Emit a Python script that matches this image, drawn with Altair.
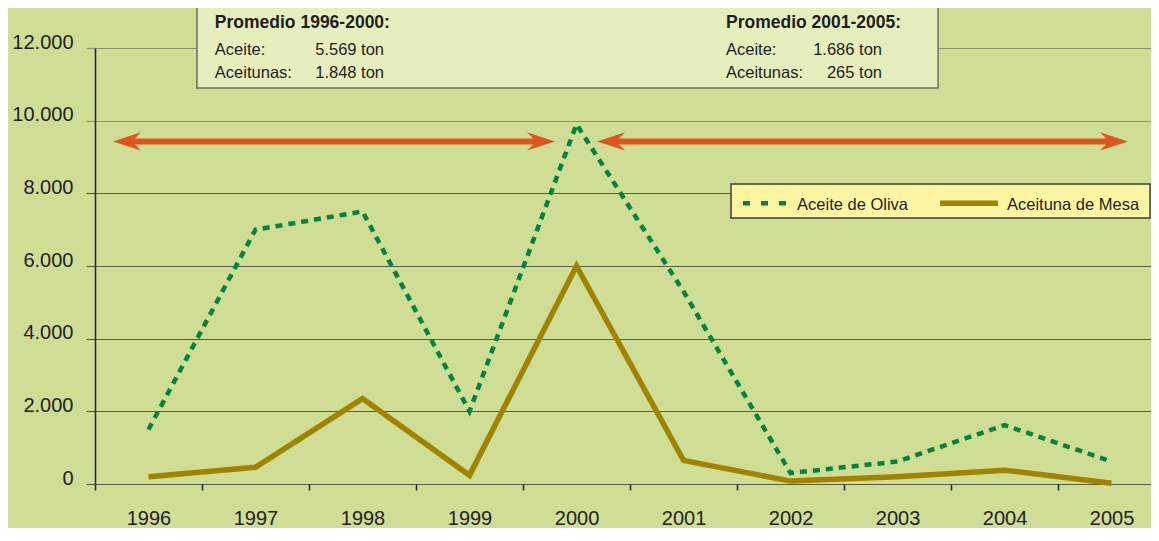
import altair as alt
import pandas as pd

# ---------------- data ----------------
years = [1996, 1997, 1998, 1999, 2000, 2001, 2002, 2003, 2004, 2005]
aceite_oliva = [1500, 7000, 7500, 2000, 9900, 5300, 300, 620, 1620, 620]
aceituna_mesa = [200, 460, 2350, 240, 6000, 650, 80, 200, 380, 20]
y_ticks = [0, 2000, 4000, 6000, 8000, 10000, 12000]

series_names = ["Aceite de Oliva", "Aceituna de Mesa"]
box_titles = ["Promedio 1996-2000:", "Promedio 2001-2005:"]
box_labels = ["Aceite:", "Aceitunas:", "Aceite:", "Aceitunas:"]
box_values = ["5.569 ton", "1.848 ton", "1.686 ton", "265 ton"]

# ---------------- styling ----------------
FONT = "Liberation Sans, Arial, Helvetica, sans-serif"
BG = "#d0dd95"
BOX_FILL = "#e6eebd"
BOX_STROKE = "#6e6f5c"
LEG_FILL = "#fdf5a2"
LEG_STROKE = "#3c3c3c"
GREEN = "#00843f"
OLIVE = "#a08400"
ARROW = "#de561f"
TEXT = "#1e1e1e"
GRID_DARK = "#5a5d45"
GRID_LIGHT = "#8d9672"

W, H = 1056, 436
xs = alt.Scale(domain=[1995.5, 2005.369], nice=False, zero=False)
ys = alt.Scale(domain=[0, 12000], nice=False, zero=False)

# ---------------- layout of decorations (in data units) ----------------
box_rect = pd.DataFrame({"x0": [1996.453], "x1": [2003.379], "y0": [13183], "y1": [10899]})
title_pos = pd.DataFrame({"text": box_titles, "x": [1996.62, 2001.397], "y": [12542, 12542]})
label_pos = pd.DataFrame({"text": box_labels,
                          "x": [1996.62, 1996.62, 2001.397, 2001.397],
                          "y": [11807, 11166, 11807, 11166]})
value_pos = pd.DataFrame({"text": box_values,
                          "x": [1998.201, 1998.201, 2002.855, 2002.855],
                          "y": [11807, 11166, 11807, 11166]})

arrows = pd.DataFrame({"start": [1995.668, 2000.192], "end": [1999.799, 2005.154], "y": [9430, 9430]})

legend_box = pd.DataFrame({"x0": [2001.444], "x1": [2005.36], "y0": [8257], "y1": [7321]})
legend_dash = pd.DataFrame({"x0": [2001.556], "x1": [2001.967], "y": [7726]})
legend_solid = pd.DataFrame({"x0": [2003.397], "x1": [2003.939], "y": [7726]})
legend_text = pd.DataFrame({"text": series_names, "x": [2002.061, 2004.023], "y": [7541, 7541]})

# ---------------- axes (identical in every layer so they merge) ----------------
x_axis = alt.Axis(
    values=[y - 0.5 for y in years],
    labelExpr="format(datum.value + 0.5, 'd')",
    labelOffset=53.5,
    labelFontSize=20, labelColor=TEXT, labelPadding=18,
    labelOverlap=False, labelBound=False, labelFlush=False,
    tickSize=6, tickColor="#222222", tickWidth=1.5,
    domain=False, grid=False, title=None,
)
grid_col = {"condition": {"test": "datum.value >= 10000", "value": GRID_LIGHT}, "value": GRID_DARK}
y_axis = alt.Axis(
    values=y_ticks,
    labelExpr="replace(format(datum.value, ','), ',', '.')",
    labelFontSize=20, labelColor=TEXT, labelPadding=13, labelBaseline="alphabetic",
    tickSize=9, tickColor=grid_col, tickWidth=1.2,
    grid=True, gridColor=grid_col, gridWidth=1.2,
    domain=True, domainColor="#222222", domainWidth=1.5,
    title=None,
)


def X(field):
    return alt.X(field, type="quantitative", scale=xs, axis=x_axis)


def Y(field):
    return alt.Y(field, type="quantitative", scale=ys, axis=y_axis)


series = pd.DataFrame({"year": years, "aceite": aceite_oliva, "aceituna": aceituna_mesa})

aceite_line = alt.Chart(series).mark_line(
    color=GREEN, strokeWidth=4.5, strokeDash=[7, 6], strokeJoin="miter"
).encode(x=X("year"), y=Y("aceite"))
aceituna_line = alt.Chart(series).mark_line(
    color=OLIVE, strokeWidth=5.5, strokeJoin="miter"
).encode(x=X("year"), y=Y("aceituna"))

# annotation box
box = alt.Chart(box_rect).mark_rect(fill=BOX_FILL, stroke=BOX_STROKE, strokeWidth=1.5).encode(
    x=X("x0"), x2="x1:Q", y=Y("y0"), y2="y1:Q",
)
titles = alt.Chart(title_pos).mark_text(
    align="left", baseline="alphabetic", fontSize=17.5, fontWeight="bold", color=TEXT
).encode(x=X("x"), y=Y("y"), text="text:N")
labels = alt.Chart(label_pos).mark_text(
    align="left", baseline="alphabetic", fontSize=16.5, color=TEXT
).encode(x=X("x"), y=Y("y"), text="text:N")
values = alt.Chart(value_pos).mark_text(
    align="right", baseline="alphabetic", fontSize=16.5, color=TEXT
).encode(x=X("x"), y=Y("y"), text="text:N")

# double arrows
arrow_shaft = alt.Chart(arrows).transform_calculate(
    a="datum.start + 0.1", b="datum.end - 0.1"
).mark_rule(color=ARROW, strokeWidth=6).encode(x=X("a"), x2="b:Q", y=Y("y"))
LEFT_HEAD = "M0,0 L2,-0.65 L1.35,0 L2,0.65 Z"
RIGHT_HEAD = "M0,0 L-2,-0.65 L-1.35,0 L-2,0.65 Z"
head_left = alt.Chart(arrows).mark_point(
    shape=LEFT_HEAD, filled=True, size=784, color=ARROW, opacity=1, strokeWidth=0
).encode(x=X("start"), y=Y("y"))
head_right = alt.Chart(arrows).mark_point(
    shape=RIGHT_HEAD, filled=True, size=784, color=ARROW, opacity=1, strokeWidth=0
).encode(x=X("end"), y=Y("y"))

# legend
leg_box = alt.Chart(legend_box).mark_rect(fill=LEG_FILL, stroke=LEG_STROKE, strokeWidth=1.5).encode(
    x=X("x0"), x2="x1:Q", y=Y("y0"), y2="y1:Q",
)
leg_dash = alt.Chart(legend_dash).mark_rule(color=GREEN, strokeWidth=4.5, strokeDash=[7, 11]).encode(
    x=X("x0"), x2="x1:Q", y=Y("y")
)
leg_solid = alt.Chart(legend_solid).mark_rule(color=OLIVE, strokeWidth=5.5).encode(
    x=X("x0"), x2="x1:Q", y=Y("y")
)
leg_text = alt.Chart(legend_text).mark_text(
    align="left", baseline="alphabetic", fontSize=16.5, color=TEXT
).encode(x=X("x"), y=Y("y"), text="text:N")

chart = alt.layer(
    aceite_line, box, titles, labels, values,
    arrow_shaft, head_left, head_right,
    aceituna_line,
    leg_box, leg_dash, leg_solid, leg_text,
).properties(
    width=W, height=H,
    autosize=alt.AutoSizeParams(type="none"),
    padding={"left": 87, "top": 40, "right": 0, "bottom": 44},
    background=BG,
).configure(font=FONT).configure_view(strokeWidth=0)

chart.save("out.html", embed_options={"renderer": "svg", "actions": False})
